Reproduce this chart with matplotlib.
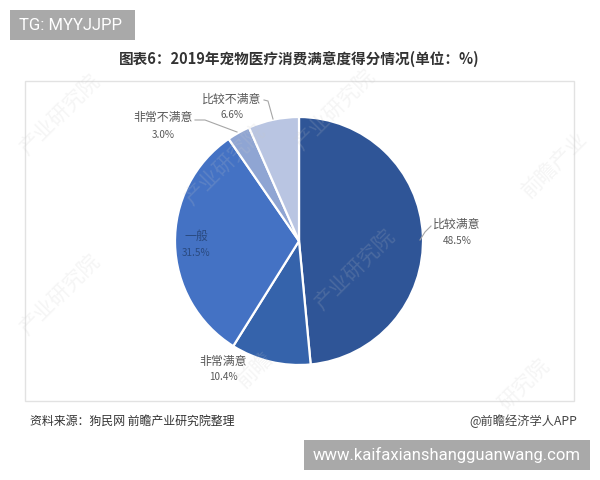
import matplotlib
matplotlib.use("Agg")
import matplotlib.pyplot as plt
from matplotlib.patches import Rectangle

plt.rcParams['font.family'] = ['Noto Sans CJK SC', 'DejaVu Sans']

labels = ["比较满意", "非常满意", "一般", "非常不满意", "比较不满意"]
values = [48.5, 10.4, 31.5, 3.0, 6.6]
colors = ["#2f5597", "#3563ab", "#4472c4", "#8fa5d3", "#b9c5e2"]

H = 480

def py(y):
    return H - y

fig = plt.figure(figsize=(6, 4.8), dpi=100)
ax = fig.add_axes([0, 0, 1, 1])

# chart frame
ax.add_patch(Rectangle((25, py(401)), 549, 320, fc="white", ec="#e2e2e2", lw=1))

# faint watermarks
for x, y, s in [(60, 115, "产业研究院"), (335, 110, "产业研究院"), (555, 165, "前瞻产业"),
                (225, 165, "产业研究院"), (60, 295, "产业研究院"), (355, 270, "产业研究院"),
                (525, 385, "研究院"), (255, 370, "前瞻")]:
    ax.text(x, py(y), s, fontsize=15, color="#c8c8c8", alpha=0.18, rotation=45,
            ha="center", va="center", zorder=4)

ax.pie(values, colors=colors, startangle=90, counterclock=False,
       center=(299, py(241)), radius=124, frame=True,
       wedgeprops=dict(edgecolor="white", linewidth=1.6))

ax.set_xlim(0, 600)
ax.set_ylim(0, H)
ax.set_aspect("equal")
ax.axis("off")

# title
ax.text(299.5, py(59), "图表6：2019年宠物医疗消费满意度得分情况(单位：%)", fontsize=10.5,
        fontweight="bold", color="#333333", ha="center", va="center")

# slice labels
lab_col = "#595959"
label_pos = [(457, 224, 241), (223, 361, 377), (196, 236, 253), (163, 118, 135), (232, 99, 115)]
for name, v, (x, y1, y2) in zip(labels, values, label_pos):
    c = "#2a4a80" if name == "一般" else lab_col
    ax.text(x, py(y1), name, fontsize=8.6, color=c, ha="center", va="center", zorder=5)
    ax.text(x, py(y2), f"{v:.1f}%", fontsize=7.2, color=c, ha="center", va="center", zorder=5)

# leader lines
ax.plot([195, 205, 237], [py(120), py(120), py(132)], color="#a6a6a6", lw=0.8, zorder=5)
ax.plot([264, 268, 273], [py(100), py(101), py(119)], color="#a6a6a6", lw=0.8, zorder=5)
ax.plot([420, 425, 431], [py(240), py(232), py(226)], color="#a6a6a6", lw=0.8, zorder=5)

# footer
ax.text(30, py(421), "资料来源：狗民网 前瞻产业研究院整理", fontsize=8.6, color="#333333",
        ha="left", va="center")
ax.text(577, py(421), "@前瞻经济学人APP", fontsize=8.8, color="#444444", ha="right", va="center")

# overlay tags
ax.add_patch(Rectangle((10, py(40)), 125, 30, fc="#a9a9a9", ec="none", zorder=6))
ax.text(19, py(25), "TG: MYYJJPP", fontsize=12, color="white", family="Roboto",
        ha="left", va="center", zorder=7)
ax.add_patch(Rectangle((304, py(470)), 286, 30, fc="#a9a9a9", ec="none", zorder=6))
ax.text(447, py(455), "www.kaifaxianshangguanwang.com", fontsize=12, color="white", family="Roboto",
        ha="center", va="center", zorder=7)

fig.savefig("out.png", dpi=100)
